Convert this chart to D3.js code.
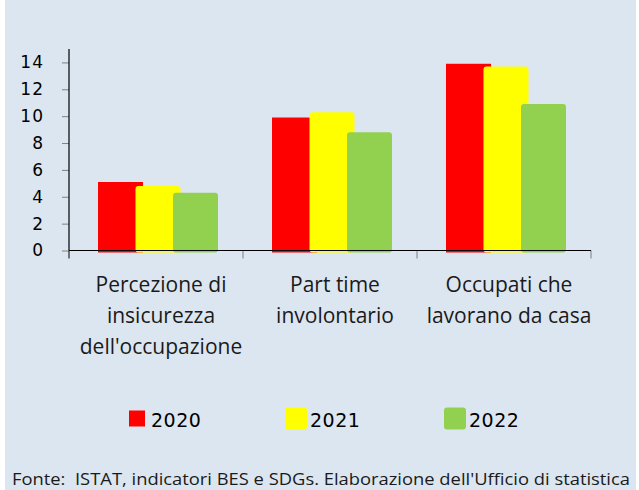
<!DOCTYPE html>
<html>
<head>
<meta charset="utf-8">
<script src="https://cdn.jsdelivr.net/npm/d3@7"></script>
<style>
	body { margin: 0; background: #fff; }
	svg { display: block; }
</style>
</head>
<body>
<div id="chart"></div>
<script>
var categories = [["Percezione di", "insicurezza", "dell'occupazione"],
	["Part time", "involontario"],
	["Occupati che", "lavorano da casa"]];
var years = ["2020", "2021", "2022"];
var colors = ["#ff0000", "#ffff00", "#92d050"];
var values2020 = [5.1, 9.9, 13.9];
var values2021 = [4.8, 10.3, 13.7];
var values2022 = [4.3, 8.8, 10.9];
var yTicks = [0, 2, 4, 6, 8, 10, 12, 14];
var source = "Fonte:  ISTAT, indicatori BES e SDGs. Elaborazione dell'Ufficio di statistica";

var series = [values2020, values2021, values2022];

var width = 639, height = 490;

var svg = d3.select("#chart").append("svg")
	.attr("width", width)
	.attr("height", height);

// panel background
svg.append("rect")
	.attr("x", 5).attr("y", 0)
	.attr("width", 631).attr("height", height)
	.attr("fill", "#dce6f1");

var x = d3.scaleBand()
	.domain(d3.range(categories.length))
	.range([69, 591]);

// bar offsets inside each band (bars overlap)
var xo = d3.scalePoint()
	.domain(years)
	.range([29, 104]);
var barW = 45;

var y = d3.scaleLinear()
	.domain([0, 15])
	.range([250.5, 49]);

// bars
years.forEach(function(yr, s)
{
	svg.append("g")
		.selectAll("rect")
		.data(series[s])
		.enter()
		.append("rect")
		.attr("x", function(d, i) { return x(i) + xo(yr); })
		.attr("y", function(d) { return y(d); })
		.attr("width", barW)
		.attr("height", function(d) { return y(0) - y(d) + 2; })
		.attr("rx", s == 0 ? 0 : 3)
		.attr("fill", colors[s]);
});

// y axis
var yAxis = svg.append("g")
	.attr("transform", "translate(69,0)")
	.call(d3.axisLeft(y).tickValues(yTicks).tickSize(7).tickPadding(18));
yAxis.select(".domain").remove();
yAxis.selectAll(".tick line").attr("stroke", "#7f7f7f");
yAxis.selectAll(".tick text")
	.attr("font-family", "DejaVu Sans")
	.attr("font-size", 17)
	.attr("letter-spacing", 1)
	.attr("fill", "#000");

svg.append("line")
	.attr("x1", 69).attr("x2", 69)
	.attr("y1", y(15)).attr("y2", y(0))
	.attr("stroke", "#000").attr("stroke-width", 1.2);

// x axis: ticks at band boundaries
var bounds = d3.range(categories.length + 1).map(function(i) { return 69 + i * x.bandwidth(); });
svg.append("g")
	.selectAll("line")
	.data(bounds)
	.enter()
	.append("line")
	.attr("x1", function(d) { return d; })
	.attr("x2", function(d) { return d; })
	.attr("y1", y(0)).attr("y2", y(0) + 8)
	.attr("stroke", function(d, i) { return i == 0 ? "#000" : "#7f7f7f"; });

svg.append("line")
	.attr("x1", 69).attr("x2", 591)
	.attr("y1", y(0)).attr("y2", y(0))
	.attr("stroke", "#000").attr("stroke-width", 1.2);

// category labels
var lab = svg.append("g")
	.selectAll("text")
	.data(categories)
	.enter()
	.append("text")
	.attr("text-anchor", "middle")
	.attr("font-family", "Open Sans")
	.attr("font-size", 21)
	.attr("fill", "#1a1a1a");
lab.each(function(lines, i)
{
	d3.select(this).selectAll("tspan")
		.data(lines)
		.enter()
		.append("tspan")
		.attr("x", x(i) + x.bandwidth() / 2 + 5)
		.attr("y", function(d, j) { return 292 + j * 31; })
		.text(function(d) { return d; });
});

// legend
var legendX = [129, 285, 444];
var leg = svg.append("g")
	.selectAll("g")
	.data(years)
	.enter()
	.append("g");
leg.append("rect")
	.attr("x", function(d, i) { return legendX[i]; })
	.attr("y", function(d, i) { return i == 0 ? 410.5 : 407.5; })
	.attr("width", function(d, i) { return i == 0 ? 16 : 22; })
	.attr("height", function(d, i) { return i == 0 ? 16 : 22; })
	.attr("rx", function(d, i) { return i == 0 ? 0 : 3; })
	.attr("fill", function(d, i) { return colors[i]; });
leg.append("text")
	.attr("x", function(d, i) { return legendX[i] + (i == 0 ? 22 : 25); })
	.attr("y", 427)
	.attr("font-family", "DejaVu Sans")
	.attr("font-size", 19)
	.attr("letter-spacing", 0.5)
	.attr("fill", "#000")
	.text(function(d) { return d; });

// source
svg.append("text")
	.attr("x", 12)
	.attr("y", 485)
	.attr("font-family", "Open Sans")
	.attr("font-size", 17)
	.attr("textLength", 618)
	.attr("lengthAdjust", "spacingAndGlyphs")
	.style("white-space", "pre")
	.attr("fill", "#1a1a1a")
	.text(source);
</script>
</body>
</html>
